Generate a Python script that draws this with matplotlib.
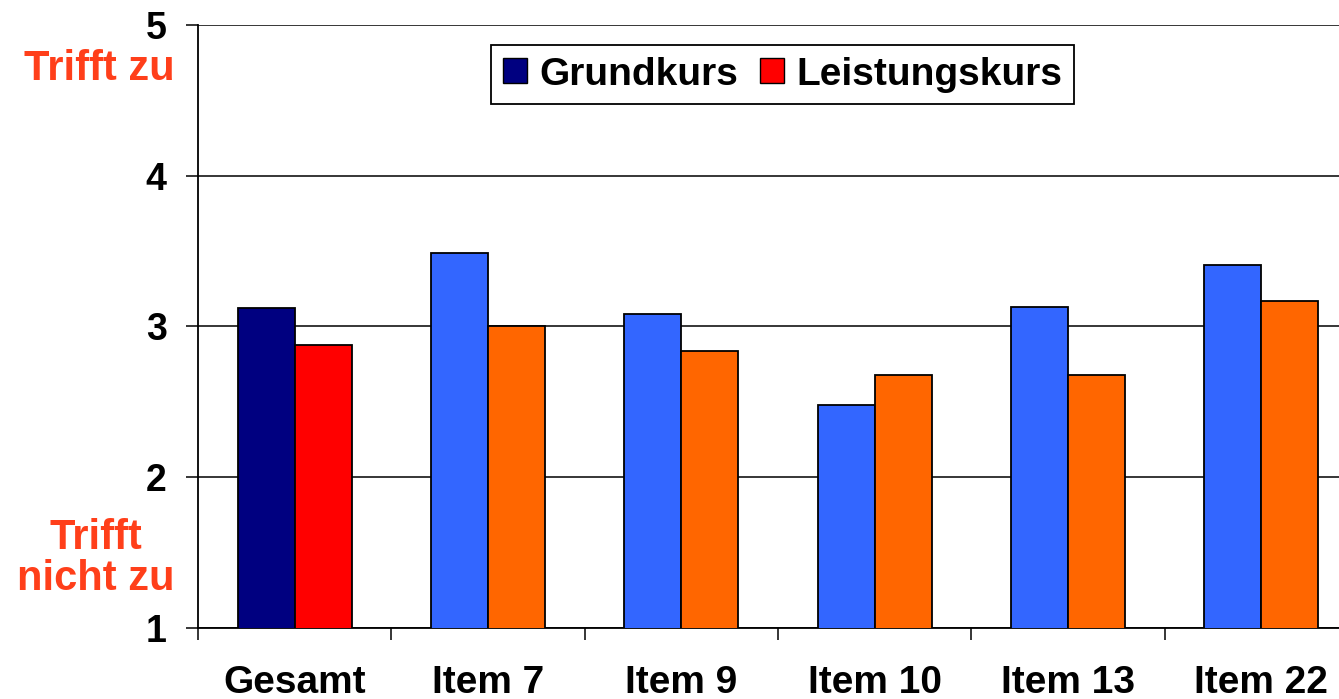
import matplotlib.pyplot as plt
import numpy as np
from matplotlib.patches import Patch

categories = ['Gesamt', 'Item 7', 'Item 9', 'Item 10', 'Item 13', 'Item 22']
grundkurs = [3.12, 3.49, 3.08, 2.48, 3.13, 3.41]
leistungskurs = [2.88, 3.00, 2.84, 2.68, 2.68, 3.17]

plt.rcParams['font.family'] = ['Liberation Sans', 'DejaVu Sans']
plt.rcParams['font.weight'] = 'bold'

gk_colors = ['#000080'] + ['#3366FF'] * 5
lk_colors = ['#FF0000'] + ['#FF6600'] * 5
label_red = '#FF3F1A'

fig = plt.figure(figsize=(13.39, 6.99), dpi=100)
ax = fig.add_axes([0.1479, 0.1016, 0.8663, 0.8627])

ind = np.arange(len(categories))
width = 0.295
ax.bar(ind - width / 2, grundkurs, width, color=gk_colors,
       edgecolor='black', linewidth=1.3, zorder=3)
ax.bar(ind + width / 2, leistungskurs, width, color=lk_colors,
       edgecolor='black', linewidth=1.3, zorder=3)

ax.set_ylim(1, 5)
ax.set_xlim(-0.5, len(categories) - 0.5)
ax.set_yticks([1, 2, 3, 4, 5])
ax.yaxis.grid(True, color='black', linewidth=1.1, zorder=0)
ax.set_axisbelow(True)

for s in ['top', 'right']:
    ax.spines[s].set_visible(False)
ax.spines['left'].set_linewidth(1.3)
ax.spines['bottom'].set_linewidth(1.3)

ax.tick_params(axis='y', labelsize=27, length=8.6, width=1.1, pad=14)
ax.set_xticks(ind)
ax.set_xticklabels(categories, fontsize=28, fontweight='bold')
ax.set_xticks(np.arange(-0.5, len(categories)), minor=True)
ax.tick_params(axis='x', which='major', length=0, pad=27)
ax.tick_params(axis='x', which='minor', length=8.6, width=1.1)
for lbl in ax.get_yticklabels():
    lbl.set_fontweight('bold')

handles = [Patch(facecolor='#000080', edgecolor='black', label='Grundkurs'),
           Patch(facecolor='#FF0000', edgecolor='black', label='Leistungskurs')]
leg = ax.legend(handles=handles, loc='upper center', bbox_to_anchor=(0.504, 0.967),
                ncol=2, fontsize=28, frameon=True, fancybox=False,
                handlelength=0.62, handleheight=0.62, handletextpad=0.33,
                columnspacing=0.54, borderpad=0.3, borderaxespad=0,
                edgecolor='black', framealpha=1)
leg.get_frame().set_linewidth(1.3)

fig.text(0.1307, 0.902, 'Trifft zu', color=label_red, fontsize=30,
         fontweight='bold', ha='right', va='center')
fig.text(0.0717, 0.201, 'Trifft\nnicht zu', color=label_red, fontsize=30,
         fontweight='bold', ha='center', va='center', linespacing=1.05)

fig.savefig('out.png', dpi=100)
